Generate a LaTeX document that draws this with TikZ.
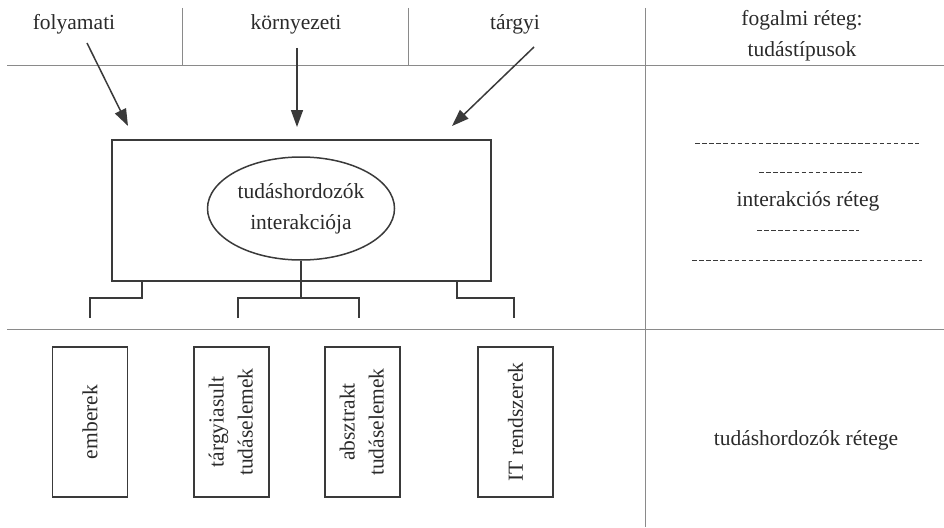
\documentclass[tikz,border=0pt]{standalone}
\usepackage{fontspec}
\setmainfont{Liberation Serif}
\usetikzlibrary{arrows.meta,shapes.geometric}
\definecolor{txt}{HTML}{2A2A2A}
\definecolor{ln}{HTML}{3A3A3A}
\definecolor{grid}{HTML}{8A8A8A}
\tikzset{
  lbl/.style={text=txt,font=\fontsize{21.5}{31}\selectfont,align=center,inner sep=0pt},
  gridline/.style={draw=grid,line width=0.8pt},
  boxline/.style={draw=ln,line width=1.5pt},
  arr/.style={draw=ln,line width=1.5pt,-{Triangle[length=17pt,width=12pt]}},
  carrier/.style={boxline,minimum width=75pt,minimum height=150pt,inner sep=0pt,
     text=txt,font=\fontsize{21.5}{33}\selectfont,align=center},
  dashline/.style={draw=ln,line width=1pt,dash pattern=on 4.5pt off 2.6pt}
}
\begin{document}
\begin{tikzpicture}[x=1pt,y=-1pt]
\useasboundingbox (0,0) rectangle (944,527);
% grid
\draw[gridline] (7,65) -- (944,65);
\draw[gridline] (7,329) -- (944,329);
\draw[gridline] (182,8) -- (182,65);
\draw[gridline] (408,8) -- (408,65);
\draw[gridline] (645,8) -- (645,527);
% headers
\node[lbl] (fol) at (74,24) {folyamati};
\node[lbl] (kor) at (296,24) {környezeti};
\node[lbl] (targ) at (515,24) {tárgyi};
\node[lbl] (fog) at (802,36) {fogalmi réteg:\\tudástípusok};
% main box
\node[boxline,minimum width=379pt,minimum height=141pt,inner sep=0pt] (main) at (301.5,210.5) {};
\node[boxline,ellipse,minimum width=187pt,minimum height=103pt,inner sep=0pt,
  lbl] (ell) at (301,208.5) {tudáshordozók\\interakciója};
% arrows
\coordinate (fs) at (87,43);
\coordinate (ft) at (128,126);
\coordinate (ks) at (297,48);
\coordinate (kt) at (297,127);
\coordinate (ts) at (534,47);
\coordinate (tt) at (452,126);
\draw[arr] (fs) -- (ft);
\draw[arr] (ks) -- (kt);
\draw[arr] (ts) -- (tt);
% carriers
\node[carrier] (emb) at (90,422) {\rotatebox{90}{emberek}};
\node[carrier] (tar) at (231.5,422) {\rotatebox{90}{\begin{tabular}{@{}c@{}}tárgyiasult\\[-4pt]tudáselemek\end{tabular}}};
\node[carrier] (abs) at (362.5,422) {\rotatebox{90}{\begin{tabular}{@{}c@{}}absztrakt\\[-4pt]tudáselemek\end{tabular}}};
\node[carrier] (its) at (515.5,422) {\rotatebox{90}{IT rendszerek}};
% brackets
\coordinate (l1) at (142,281);
\coordinate (l2) at (142,298);
\coordinate (l3) at (90,298);
\coordinate (l4) at (90,318);
\draw[boxline] (l1) -- (l2) -- (l3) -- (l4);
\coordinate (m2) at (301,298);
\coordinate (m3) at (238,298);
\coordinate (m4) at (238,318);
\coordinate (m5) at (359,298);
\coordinate (m6) at (359,318);
\draw[boxline] (ell.south) -- (m2);
\draw[boxline] (m4) -- (m3) -- (m5) -- (m6);
\coordinate (r1) at (457,281);
\coordinate (r2) at (457,298);
\coordinate (r3) at (514,298);
\coordinate (r4) at (514,318);
\draw[boxline] (r1) -- (r2) -- (r3) -- (r4);
% right column
\coordinate (d1a) at (695,143); \coordinate (d1b) at (919,143);
\coordinate (d2a) at (759,172); \coordinate (d2b) at (862,172);
\coordinate (d3a) at (757,230); \coordinate (d3b) at (859,230);
\coordinate (d4a) at (692,260); \coordinate (d4b) at (922,260);
\draw[dashline] (d1a) -- (d1b);
\draw[dashline] (d2a) -- (d2b);
\draw[dashline] (d3a) -- (d3b);
\draw[dashline] (d4a) -- (d4b);
\node[lbl] (inter) at (808,201) {interakciós réteg};
\node[lbl] (hord) at (806,440) {tudáshordozók rétege};
\end{tikzpicture}
\end{document}
